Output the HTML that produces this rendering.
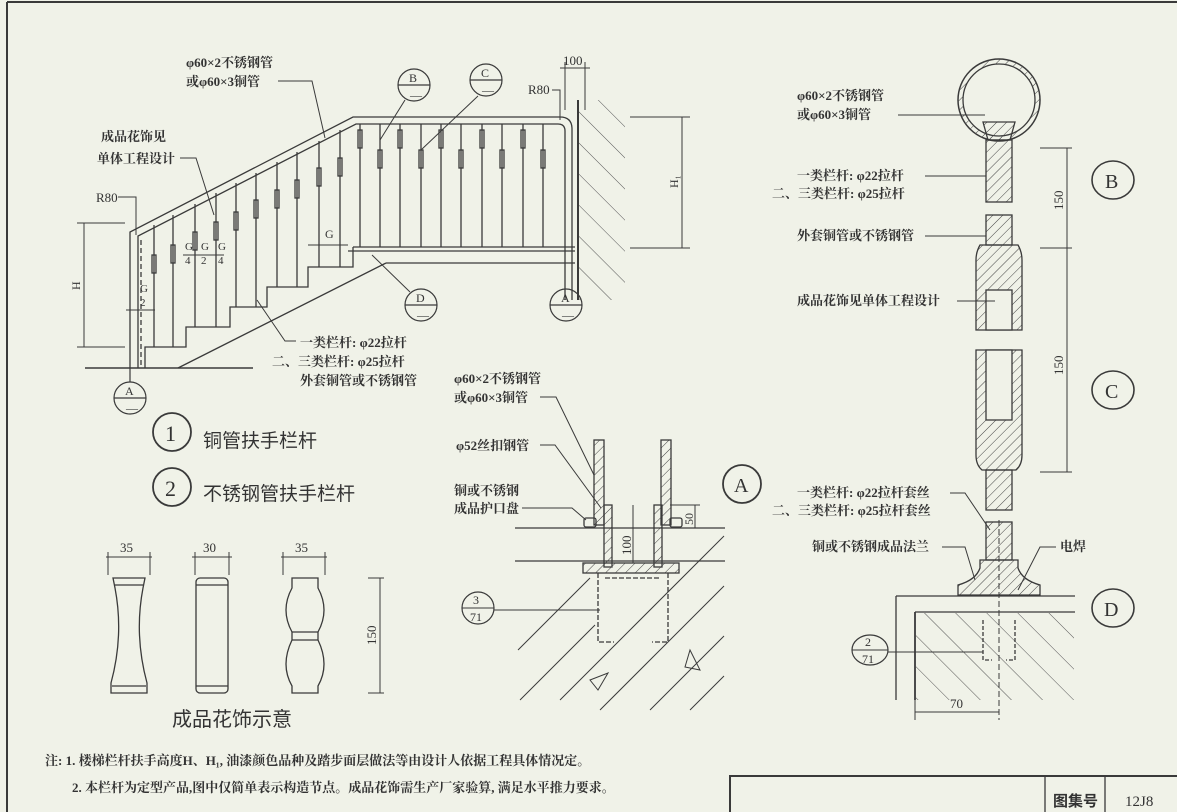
<!DOCTYPE html>
<html><head><meta charset="utf-8"><style>
body{margin:0;background:#f0f2e8}
svg{display:block}
text{font-family:"Liberation Serif","Noto Serif CJK SC","Noto Sans CJK SC",serif;fill:#333}
.c{font-family:"Liberation Sans","Noto Sans CJK SC",sans-serif;font-weight:bold}
</style></head><body>
<svg width="1177" height="812" viewBox="0 0 1177 812" xmlns="http://www.w3.org/2000/svg" stroke="#3a3a3a" fill="none" stroke-width="1.3">
<defs>
<pattern id="h" width="7" height="7" patternUnits="userSpaceOnUse" patternTransform="rotate(45)"><line x1="0" y1="0" x2="0" y2="7" stroke="#444" stroke-width="1"/></pattern>
<pattern id="h2" width="22" height="22" patternUnits="userSpaceOnUse" patternTransform="rotate(-45)"><line x1="0" y1="0" x2="0" y2="22" stroke="#555" stroke-width="1"/></pattern>
</defs>
<!-- frame -->
<line x1="7" y1="2" x2="7" y2="812" stroke-width="2"/>
<line x1="7" y1="2" x2="1177" y2="2" stroke-width="2"/>

<!-- ===== staircase elevation ===== -->
<path d="M130 368 V232 L353 117 H560 Q572 117 572 129 V300"/>
<path d="M138 368 V236 L356 124 H558 Q565 124 565 131 V300"/>
<line x1="141" y1="240" x2="141" y2="368" stroke-dasharray="5 3"/>
<line x1="85" y1="368" x2="253" y2="368" stroke-width="1.6"/>
<!-- steps -->
<path d="M145 368 V347 H186 V327 H230 V307 H267 V287 H308 V267 H353 V247"/>
<line x1="353" y1="247" x2="575" y2="247"/>
<line x1="348" y1="251" x2="575" y2="251"/>
<line x1="386" y1="263" x2="575" y2="263"/>
<line x1="178" y1="368" x2="386" y2="263"/>
<!-- stair balusters -->
<g>
<line x1="154" y1="225" x2="154" y2="347"/><rect x="152" y="255" width="4" height="18"/>
<line x1="173" y1="215" x2="173" y2="347"/><rect x="171" y="245" width="4" height="18"/>
<line x1="195" y1="204" x2="195" y2="327"/><rect x="193" y="232" width="4" height="18"/>
<line x1="216" y1="193" x2="216" y2="327"/><rect x="214" y="222" width="4" height="18"/>
<line x1="236" y1="183" x2="236" y2="307"/><rect x="234" y="212" width="4" height="18"/>
<line x1="256" y1="173" x2="256" y2="307"/><rect x="254" y="200" width="4" height="18"/>
<line x1="277" y1="162" x2="277" y2="287"/><rect x="275" y="190" width="4" height="18"/>
<line x1="297" y1="152" x2="297" y2="287"/><rect x="295" y="180" width="4" height="18"/>
<line x1="319" y1="141" x2="319" y2="267"/><rect x="317" y="168" width="4" height="18"/>
<line x1="340" y1="130" x2="340" y2="267"/><rect x="338" y="158" width="4" height="18"/>
</g>
<g>
<line x1="360" y1="124" x2="360" y2="247"/><rect x="358" y="130" width="4" height="18"/>
<line x1="380" y1="124" x2="380" y2="247"/><rect x="378" y="150" width="4" height="18"/>
<line x1="400" y1="124" x2="400" y2="247"/><rect x="398" y="130" width="4" height="18"/>
<line x1="421" y1="124" x2="421" y2="247"/><rect x="419" y="150" width="4" height="18"/>
<line x1="441" y1="124" x2="441" y2="247"/><rect x="439" y="130" width="4" height="18"/>
<line x1="461" y1="124" x2="461" y2="247"/><rect x="459" y="150" width="4" height="18"/>
<line x1="482" y1="124" x2="482" y2="247"/><rect x="480" y="130" width="4" height="18"/>
<line x1="502" y1="124" x2="502" y2="247"/><rect x="500" y="150" width="4" height="18"/>
<line x1="523" y1="124" x2="523" y2="247"/><rect x="521" y="130" width="4" height="18"/>
<line x1="543" y1="124" x2="543" y2="247"/><rect x="541" y="150" width="4" height="18"/>
</g>
<!-- wall -->
<line x1="578" y1="100" x2="578" y2="300" stroke-width="2"/>
<rect x="579" y="100" width="46" height="200" fill="url(#h2)" stroke="none"/>
<line x1="565" y1="62" x2="565" y2="110" stroke-width="1"/><line x1="585" y1="62" x2="585" y2="110" stroke-width="1"/>
<line x1="560" y1="68" x2="590" y2="68" stroke-width="1"/>
<text x="563" y="65" font-size="13" stroke="none">100</text>
<text x="528" y="94" font-size="13" stroke="none">R80</text>
<path d="M552 90 H560 V120" stroke-width="1"/>
<!-- H1 dim -->
<line x1="630" y1="117" x2="690" y2="117" stroke-width="1"/><line x1="630" y1="248" x2="690" y2="248" stroke-width="1"/>
<line x1="682" y1="117" x2="682" y2="248" stroke-width="1"/>
<text x="0" y="0" font-size="12" stroke="none" transform="translate(678,188) rotate(-90)">H₁</text>
<!-- H dim -->
<line x1="77" y1="223" x2="125" y2="223" stroke-width="1"/><line x1="77" y1="347" x2="125" y2="347" stroke-width="1"/>
<line x1="84" y1="223" x2="84" y2="347" stroke-width="1"/>
<text x="0" y="0" font-size="12" stroke="none" transform="translate(80,290) rotate(-90)">H</text>
<text x="96" y="202" font-size="13" stroke="none">R80</text>
<path d="M118 197 H136 V235" stroke-width="1"/>
<!-- G dims -->
<g stroke-width="1"><line x1="126" y1="310" x2="155" y2="310"/><line x1="183" y1="255" x2="224" y2="255"/><line x1="308" y1="245" x2="348" y2="245"/></g>
<text x="140" y="292" font-size="11" stroke="none">G</text><text x="140" y="306" font-size="11" stroke="none">2</text>
<text x="185" y="250" font-size="11" stroke="none">G</text><text x="185" y="264" font-size="11" stroke="none">4</text>
<text x="201" y="250" font-size="11" stroke="none">G</text><text x="201" y="264" font-size="11" stroke="none">2</text>
<text x="218" y="250" font-size="11" stroke="none">G</text><text x="218" y="264" font-size="11" stroke="none">4</text>
<text x="325" y="238" font-size="12" stroke="none">G</text>
<!-- section circles -->
<g stroke-width="1.2">
<circle cx="414" cy="85" r="16"/><line x1="398" y1="85" x2="430" y2="85"/>
<circle cx="486" cy="80" r="16"/><line x1="470" y1="80" x2="502" y2="80"/>
<circle cx="421" cy="305" r="16"/><line x1="405" y1="305" x2="437" y2="305"/>
<circle cx="566" cy="305" r="16"/><line x1="550" y1="305" x2="582" y2="305"/>
<circle cx="130" cy="398" r="16"/><line x1="114" y1="398" x2="146" y2="398"/>
<line x1="130" y1="368" x2="130" y2="382"/>
</g>
<g font-size="12" stroke="none"><text x="409" y="82">B</text><text x="481" y="77">C</text><text x="416" y="302">D</text><text x="561" y="302">A</text><text x="125" y="395">A</text>
<text x="410" y="99">—</text><text x="482" y="94">—</text><text x="417" y="319">—</text><text x="562" y="319">—</text><text x="126" y="412">—</text></g>
<g stroke-width="1"><line x1="405" y1="100" x2="380" y2="140"/><line x1="478" y1="96" x2="421" y2="150"/><line x1="410" y1="292" x2="372" y2="255"/></g>
<!-- labels -->
<g class="c" font-size="13" stroke="none">
<text x="186" y="67">φ60×2不锈钢管</text>
<text x="186" y="86">或φ60×3铜管</text>
<text x="101" y="141">成品花饰见</text>
<text x="97" y="163">单体工程设计</text>
<text x="300" y="347">一类栏杆: φ22拉杆</text>
<text x="272" y="366">二、三类栏杆: φ25拉杆</text>
<text x="300" y="385">外套铜管或不锈钢管</text>
</g>
<g stroke-width="1"><path d="M278 81 H312 L325 138"/><path d="M180 158 H196 L214 215"/><path d="M296 341 H285 L257 300"/></g>

<!-- legend -->
<circle cx="172" cy="432" r="19" stroke-width="1.8"/><text x="165" y="441" font-size="22" stroke="none">1</text>
<circle cx="172" cy="487" r="19" stroke-width="1.8"/><text x="165" y="496" font-size="22" stroke="none">2</text>
<text class="c" x="203" y="447" font-size="19" stroke="none" style="font-weight:normal">铜管扶手栏杆</text>
<text class="c" x="203" y="500" font-size="19" stroke="none" style="font-weight:normal">不锈钢管扶手栏杆</text>

<!-- ornaments -->
<path d="M113 578 H145 L143 588 Q134 635 147 683 L147 693 H111 L111 683 Q124 635 115 588 Z"/>
<line x1="115" y1="585" x2="143" y2="585"/><line x1="112" y1="686" x2="146" y2="686"/>
<rect x="196" y="578" width="32" height="115" rx="4"/><line x1="196" y1="585" x2="228" y2="585"/><line x1="196" y1="686" x2="228" y2="686"/>
<path d="M292 578 H318 V588 Q330 610 318 632 V640 Q330 665 318 686 V693 H292 V686 Q280 665 292 640 V632 Q280 610 292 588 Z"/>
<line x1="292" y1="632" x2="318" y2="632"/><line x1="292" y1="640" x2="318" y2="640"/>
<g stroke-width="1"><line x1="106" y1="557" x2="152" y2="557"/><line x1="108" y1="552" x2="108" y2="575"/><line x1="150" y1="552" x2="150" y2="575"/>
<line x1="192" y1="557" x2="232" y2="557"/><line x1="195" y1="552" x2="195" y2="575"/><line x1="229" y1="552" x2="229" y2="575"/>
<line x1="281" y1="557" x2="327" y2="557"/><line x1="283" y1="552" x2="283" y2="575"/><line x1="325" y1="552" x2="325" y2="575"/>
<line x1="380" y1="578" x2="380" y2="693"/><line x1="368" y1="578" x2="384" y2="578"/><line x1="368" y1="693" x2="384" y2="693"/></g>
<g font-size="13" stroke="none"><text x="120" y="552">35</text><text x="203" y="552">30</text><text x="295" y="552">35</text>
<text x="0" y="0" transform="translate(376,645) rotate(-90)">150</text></g>
<text class="c" x="172" y="726" font-size="20" stroke="none" style="font-weight:normal">成品花饰示意</text>

<!-- ===== detail A ===== -->
<g class="c" font-size="13" stroke="none">
<text x="454" y="383">φ60×2不锈钢管</text>
<text x="454" y="402">或φ60×3铜管</text>
<text x="456" y="450">φ52丝扣钢管</text>
<text x="454" y="495">铜或不锈钢</text>
<text x="454" y="513">成品护口盘</text>
</g>
<g stroke-width="1"><path d="M540 397 H556 L594 475"/><path d="M540 445 H555 L601 508"/><path d="M522 508 H572 L586 520"/></g>
<rect x="594" y="440" width="10" height="85" fill="url(#h)"/>
<rect x="661" y="440" width="10" height="85" fill="url(#h)"/>
<rect x="604" y="505" width="8" height="62" fill="url(#h)"/>
<rect x="654" y="505" width="8" height="62" fill="url(#h)"/>
<rect x="584" y="518" width="12" height="9" rx="2"/><rect x="670" y="518" width="12" height="9" rx="2"/>
<line x1="515" y1="528" x2="725" y2="528"/>
<line x1="515" y1="561" x2="725" y2="561"/>
<rect x="583" y="563" width="96" height="10" fill="url(#h)"/>
<path d="M598 573 V642 H614" stroke-dasharray="5 2"/><path d="M668 573 V642 H652" stroke-dasharray="5 2"/>
<line x1="605" y1="578" x2="661" y2="578" stroke-dasharray="5 2"/>
<line x1="633" y1="505" x2="633" y2="563" stroke-width="1"/>
<text x="0" y="0" font-size="13" stroke="none" transform="translate(631,555) rotate(-90)">100</text>
<line x1="695" y1="505" x2="695" y2="528" stroke-width="1"/><line x1="670" y1="505" x2="700" y2="505" stroke-width="1"/>
<text x="0" y="0" font-size="12" stroke="none" transform="translate(693,525) rotate(-90)">50</text>
<g stroke-width="1"><line x1="518" y1="650" x2="590" y2="578"/><line x1="520" y1="700" x2="595" y2="625"/><line x1="560" y1="700" x2="724" y2="536"/><line x1="600" y1="710" x2="724" y2="586"/><line x1="650" y1="710" x2="724" y2="636"/><line x1="690" y1="710" x2="724" y2="676"/></g>
<path d="M590 680 L608 673 L598 690 Z M690 650 L700 670 L685 667 Z" stroke-width="1"/>
<circle cx="478" cy="608" r="16" stroke-width="1.2"/><line x1="462" y1="608" x2="494" y2="608" stroke-width="1"/>
<line x1="494" y1="610" x2="600" y2="610" stroke-width="1"/>
<text x="473" y="604" font-size="12" stroke="none">3</text><text x="470" y="621" font-size="12" stroke="none">71</text>
<circle cx="742" cy="484" r="19" stroke-width="1.8"/><text x="734" y="492" font-size="20" stroke="none">A</text>

<!-- ===== right detail ===== -->
<circle cx="999" cy="100" r="41" stroke-width="1.5"/>
<circle cx="999" cy="100" r="36"/>
<path d="M963 100 A36 36 0 0 1 1035 100 A36 36 0 0 1 963 100 M958 100 A41 41 0 0 0 1040 100 A41 41 0 0 0 958 100" fill="url(#h)" fill-rule="evenodd" stroke="none"/>
<path d="M983 122 H1015 L1010 140 H988 Z" fill="url(#h)"/>
<rect x="986" y="140" width="26" height="62" fill="url(#h)"/>
<rect x="986" y="215" width="26" height="30" fill="url(#h)"/>
<path d="M980 245 H1018 Q1022 252 1022 260 V330 H976 V260 Q976 252 980 245 Z" fill="url(#h)"/>
<rect x="986" y="290" width="26" height="40" fill="#f0f2e8"/>
<path d="M976 350 H1022 V455 Q1022 465 1016 470 H982 Q976 465 976 455 Z" fill="url(#h)"/>
<rect x="986" y="350" width="26" height="70" fill="#f0f2e8"/>
<rect x="986" y="470" width="26" height="40" fill="url(#h)"/>
<rect x="986" y="522" width="26" height="38" fill="url(#h)"/>
<path d="M980 560 H1018 V568 Q1022 580 1040 585 V595 H958 V585 Q976 580 980 568 Z" fill="url(#h)"/>
<line x1="896" y1="596" x2="1075" y2="596"/>
<line x1="915" y1="612" x2="1075" y2="612"/>
<line x1="915" y1="612" x2="915" y2="700" stroke-width="1.8"/>
<line x1="896" y1="596" x2="896" y2="700"/>
<rect x="916" y="613" width="158" height="87" fill="url(#h2)" stroke="none"/>
<path d="M983 620 V660 H992 M1015 620 V660 H1006" stroke-dasharray="4 2"/>
<line x1="999" y1="520" x2="999" y2="720" stroke-dasharray="6 3" stroke-width="1"/>
<line x1="915" y1="700" x2="915" y2="720" stroke-width="1"/>
<line x1="915" y1="712" x2="999" y2="712" stroke-width="1"/>
<text x="950" y="708" font-size="13" stroke="none">70</text>
<g stroke-width="1"><line x1="1040" y1="148" x2="1072" y2="148"/><line x1="1040" y1="248" x2="1072" y2="248"/><line x1="1040" y1="472" x2="1072" y2="472"/><line x1="1067" y1="148" x2="1067" y2="472"/></g>
<text x="0" y="0" font-size="13" stroke="none" transform="translate(1063,210) rotate(-90)">150</text>
<text x="0" y="0" font-size="13" stroke="none" transform="translate(1063,375) rotate(-90)">150</text>
<g stroke-width="1.6"><ellipse cx="1113" cy="180" rx="21" ry="19"/><ellipse cx="1113" cy="390" rx="21" ry="19"/><ellipse cx="1113" cy="608" rx="21" ry="19"/></g>
<g font-size="20" stroke="none"><text x="1105" y="188">B</text><text x="1105" y="398">C</text><text x="1104" y="616">D</text></g>
<g class="c" font-size="13" stroke="none">
<text x="797" y="100">φ60×2不锈钢管</text>
<text x="797" y="119">或φ60×3铜管</text>
<text x="797" y="180">一类栏杆: φ22拉杆</text>
<text x="772" y="198">二、三类栏杆: φ25拉杆</text>
<text x="797" y="240">外套铜管或不锈钢管</text>
<text x="797" y="305">成品花饰见单体工程设计</text>
<text x="797" y="497">一类栏杆: φ22拉杆套丝</text>
<text x="772" y="515">二、三类栏杆: φ25拉杆套丝</text>
<text x="812" y="551">铜或不锈钢成品法兰</text>
<text x="1060" y="551">电焊</text>
</g>
<g stroke-width="1"><line x1="898" y1="115" x2="985" y2="115"/><line x1="925" y1="176" x2="986" y2="176"/><line x1="925" y1="236" x2="986" y2="236"/><line x1="957" y1="301" x2="995" y2="301"/><path d="M950 493 H965 L990 530"/><path d="M942 547 H965 L975 580"/><path d="M1056 547 H1040 L1018 590"/></g>
<ellipse cx="870" cy="650" rx="18" ry="15" stroke-width="1.2"/><line x1="852" y1="650" x2="888" y2="650" stroke-width="1"/>
<line x1="888" y1="652" x2="983" y2="652" stroke-width="1"/>
<text x="865" y="646" font-size="12" stroke="none">2</text><text x="862" y="663" font-size="12" stroke="none">71</text>

<!-- notes -->
<g class="c" font-size="13" stroke="none">
<text x="45" y="765">注: 1. 楼梯栏杆扶手高度H、H₁, 油漆颜色品种及踏步面层做法等由设计人依据工程具体情况定。</text>
<text x="72" y="792">2. 本栏杆为定型产品,图中仅简单表示构造节点。成品花饰需生产厂家验算, 满足水平推力要求。</text>
</g>
<!-- title block -->
<rect x="730" y="776" width="460" height="40" stroke-width="2"/>
<line x1="1045" y1="776" x2="1045" y2="812"/><line x1="1105" y1="776" x2="1105" y2="812"/>
<text class="c" x="1053" y="806" font-size="15" stroke="none">图集号</text>
<text x="1125" y="806" font-size="15" stroke="none">12J8</text>
</svg>
</body></html>
